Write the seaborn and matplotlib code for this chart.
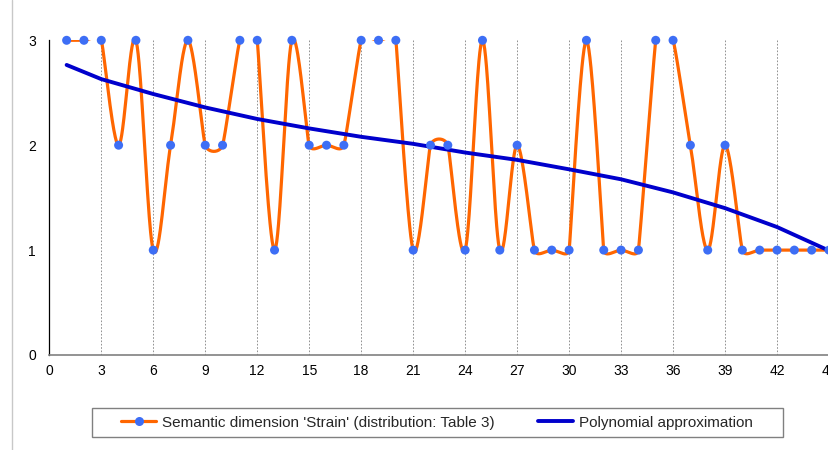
import numpy as np
import pandas as pd
import matplotlib
matplotlib.use("Agg")
import matplotlib.pyplot as plt
import seaborn as sns
from matplotlib.patches import Rectangle
from matplotlib.lines import Line2D

# ---- data ----
positions = list(range(1, 46))
strain = [3, 3, 3, 2, 3, 1, 2, 3, 2, 2,
          3, 3, 1, 3, 2, 2, 2, 3, 3, 3,
          1, 2, 2, 1, 3, 1, 2, 1, 1, 1,
          3, 1, 1, 1, 3, 3, 2, 1, 2, 1,
          1, 1, 1, 1, 1]
poly_x = [1, 3, 6, 9, 12, 15, 18, 21, 24, 27, 30, 33, 36, 39, 42, 45]
poly_y = [2.765, 2.63, 2.488, 2.36, 2.25, 2.16, 2.08, 2.013, 1.93, 1.86,
          1.77, 1.675, 1.55, 1.40, 1.22, 0.995]
xticks = list(range(0, 46, 3))
yticks = [0, 1, 2, 3]
label_series = "Semantic dimension 'Strain' (distribution: Table 3)"
label_poly = "Polynomial approximation"

W, H = 829, 450
sns.set_theme(style="white")
plt.rcParams['font.family'] = ['Liberation Sans', 'DejaVu Sans']

fig = plt.figure(figsize=(W / 100, H / 100), dpi=100)
ax_left, ax_right, ax_top, ax_bot = 49.3, 829.0, 40.3, 355.0
ax = fig.add_axes([ax_left / W, 1 - ax_bot / H, (ax_right - ax_left) / W, (ax_bot - ax_top) / H])
ax.set_xlim(0, 45)
ax.set_ylim(0, 3)

# ---- Excel-like smoothed curve (Bezier in screen space) ----
sx = (ax_right - ax_left) / 45.0
sy = (ax_bot - ax_top) / 3.0
P = np.array([[x * sx, y * sy] for x, y in zip(positions, strain)])
n = len(P)

def ctrl(i):
    p0 = P[max(i - 1, 0)]
    p1 = P[i]
    p2 = P[min(i + 1, n - 1)]
    d01 = np.linalg.norm(p1 - p0)
    d12 = np.linalg.norm(p2 - p1)
    d02 = np.linalg.norm(p2 - p0)
    if d02 == 0:
        return np.zeros(2)
    L = min(d02 / 6.0, d01 / 2.0, d12 / 2.0)
    return (p2 - p0) / d02 * L

pts = []
t = np.linspace(0, 1, 40)
for i in range(n - 1):
    a = P[i]
    b = P[i + 1]
    c1 = a + ctrl(i)
    c2 = b - ctrl(i + 1)
    seg = ((1 - t) ** 3)[:, None] * a + (3 * (1 - t) ** 2 * t)[:, None] * c1 + \
          (3 * (1 - t) * t ** 2)[:, None] * c2 + (t ** 3)[:, None] * b
    pts.append(seg if i == 0 else seg[1:])
pts = np.vstack(pts)
smooth = pd.DataFrame({"x": pts[:, 0] / sx, "y": pts[:, 1] / sy, "o": np.arange(len(pts))})

# vertical dashed grid
for xv in xticks[1:]:
    ax.plot([xv, xv], [0, 3], color="#808080", lw=0.6, ls=(0, (2, 2)), zorder=1)

sns.lineplot(data=smooth, x="x", y="y", sort=False, estimator=None, ax=ax,
             color="#FF6600", lw=2.3, zorder=2)
df = pd.DataFrame({"x": positions, "y": strain})
sns.scatterplot(data=df, x="x", y="y", ax=ax, color="#3D6EF5", s=42,
                edgecolor="none", zorder=4)
for c in ax.collections:
    c.set_clip_on(False)
pdf = pd.DataFrame({"x": poly_x, "y": poly_y})
sns.lineplot(data=pdf, x="x", y="y", ax=ax, color="#0000CC", lw=2.8, zorder=3)

ax.set_xlabel("")
ax.set_ylabel("")
ax.set_xticks(xticks)
ax.set_yticks(yticks)
ax.tick_params(axis="both", labelsize=10, colors="#000000", length=3.5, width=0.8,
               direction="out")
ax.tick_params(axis="x", color="#808080", pad=3)
ax.tick_params(axis="y", color="#404040", pad=6)
for s in ["top", "right"]:
    ax.spines[s].set_visible(False)
ax.spines["left"].set_color("#000000")
ax.spines["left"].set_linewidth(0.9)
ax.spines["bottom"].set_color("#808080")
ax.spines["bottom"].set_linewidth(1.2)
ax.grid(False)
if ax.get_legend():
    ax.get_legend().remove()

# left gray frame line
fig.add_artist(Line2D([12.5 / W, 12.5 / W], [0, 1], color="#C8C8C8", lw=1.0))

# legend box
fig.add_artist(Rectangle((92.5 / W, 1 - 437 / H), (783 - 92.5) / W, (437 - 408) / H,
                         facecolor="white", edgecolor="#808080", lw=1.0,
                         transform=fig.transFigure))
h1 = Line2D([], [], color="#FF6600", lw=2.3, marker="o", markersize=6.5,
            markerfacecolor="#3D6EF5", markeredgecolor="none")
h2 = Line2D([], [], color="#0000CC", lw=2.8)
fig.legend([h1, h2], [label_series, label_poly], loc="center left",
           bbox_to_anchor=(121 / W, 1 - 422.5 / H), ncol=2, frameon=False,
           fontsize=11, handlelength=2.3, handletextpad=0.4, columnspacing=2.8,
           borderpad=0, borderaxespad=0)

fig.savefig("out.png", dpi=100)
